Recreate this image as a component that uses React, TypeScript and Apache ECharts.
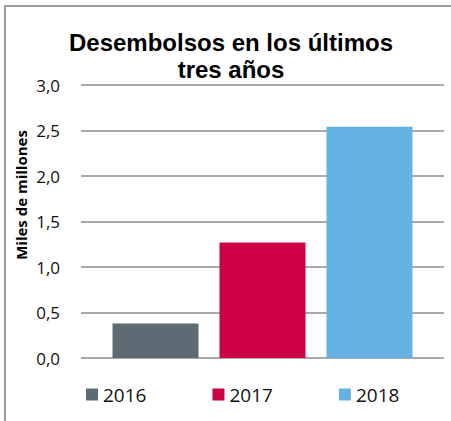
import React, { useEffect, useRef } from "react";
import * as echarts from "echarts";

const years = ["2016", "2017", "2018"];
const values = [0.38, 1.27, 2.54];
const colors = ["#5f6b73", "#cc0044", "#65b1e4"];
const category = ["Desembolsos"];
const titleLines = ["Desembolsos en los últimos", "tres años"];
const yAxisTitle = "Miles de millones";

export default function App() {
  const ref = useRef<HTMLDivElement>(null);
  useEffect(() => {
    if (!ref.current) return;
    const chart = echarts.init(ref.current, null, { renderer: "svg" });
    chart.setOption({
      animation: false,
      backgroundColor: "#ffffff",
      grid: { left: 81, right: 7, top: 85, bottom: 63, containLabel: false },
      xAxis: {
        type: "category",
        data: category,
        axisLine: { show: false },
        axisTick: { show: false },
        axisLabel: { show: false },
      },
      yAxis: {
        type: "value",
        min: 0,
        max: 3,
        interval: 0.5,
        axisLine: { show: false },
        axisTick: { show: false },
        splitLine: { lineStyle: { color: "#8c8c8c", width: 1.5 } },
        axisLabel: {
          margin: 21,
          fontSize: 17,
          fontFamily: "Open Sans",
          color: "#111",
          formatter: (v: number) => v.toFixed(1).replace(".", ","),
        },
      },
      legend: {
        data: years,
        left: 86,
        top: 385,
        padding: 0,
        itemWidth: 12,
        itemHeight: 12,
        itemGap: 66,
        icon: "rect",
        textStyle: { fontSize: 19, fontFamily: "Open Sans", color: "#111" },
      },
      series: years.map((y, i) => ({
        name: y,
        type: "bar",
        data: [values[i]],
        barWidth: 86,
        barGap: "24.4%",
        itemStyle: { color: colors[i] },
      })),
      graphic: [
        {
          type: "rect",
          shape: { x: 5, y: 6, width: 470, height: 440 },
          style: { fill: "none", stroke: "#9a9a9a", lineWidth: 2 },
          silent: true,
        },
        {
          type: "text",
          x: 231,
          y: 42,
          style: {
            text: titleLines[0],
            fontSize: 24,
            fontWeight: "bold",
            fontFamily: "Liberation Sans",
            fill: "#000",
            textAlign: "center",
            textVerticalAlign: "middle",
          },
        },
        {
          type: "text",
          x: 231,
          y: 69,
          style: {
            text: titleLines[1],
            fontSize: 24,
            fontWeight: "bold",
            fontFamily: "Liberation Sans",
            fill: "#000",
            textAlign: "center",
            textVerticalAlign: "middle",
          },
        },
        {
          type: "text",
          x: 21,
          y: 195,
          rotation: Math.PI / 2,
          style: {
            text: yAxisTitle,
            fontSize: 15,
            fontWeight: "bold",
            fontFamily: "Open Sans",
            fill: "#000",
            textAlign: "center",
            textVerticalAlign: "middle",
          },
        },
      ],
    });
    return () => chart.dispose();
  }, []);
  return (
    <div
      ref={ref}
      style={{ position: "absolute", left: 0, top: 0, width: 451, height: 421 }}
    />
  );
}
